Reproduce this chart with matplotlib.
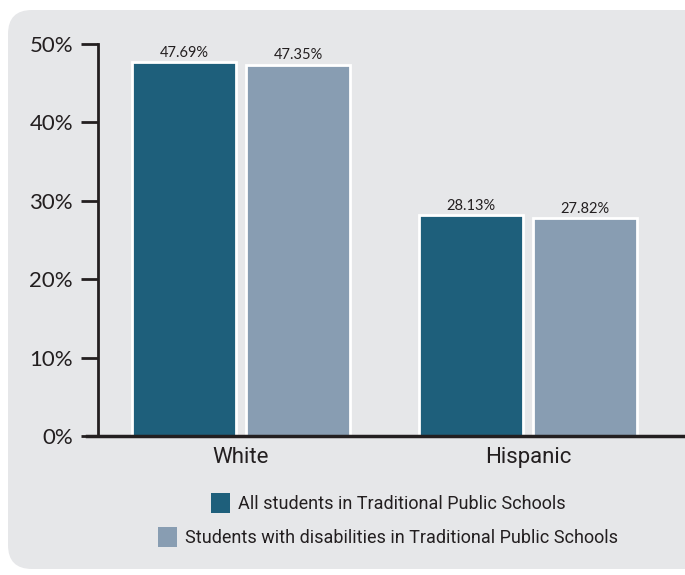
import matplotlib
matplotlib.use('Agg')
import matplotlib.pyplot as plt
from matplotlib.patches import FancyBboxPatch, Patch
import numpy as np

categories = ['White', 'Hispanic']
all_students = [47.69, 28.13]
swd_students = [47.35, 27.82]
series_labels = ['All students in Traditional Public Schools',
                 'Students with disabilities in Traditional Public Schools']
yticks = [0, 10, 20, 30, 40, 50]

DARK = '#1e5f7b'
LIGHT = '#889db2'
BG = '#e6e7e9'
INK = '#231f20'

W, H = 685, 575
fig = plt.figure(figsize=(W / 100, H / 100), dpi=100)
fig.patch.set_facecolor('white')

# rounded grey panel behind everything
panel = FancyBboxPatch((8 / W, 6 / H), 700 / W, 559 / H,
                       boxstyle='round,pad=0,rounding_size=0.035',
                       transform=fig.transFigure, facecolor=BG, edgecolor='none',
                       zorder=-10, mutation_aspect=W / H)
fig.patches.append(panel)

ax = fig.add_axes([98 / W, 1 - 436 / H, 587 / W, 392 / H])
ax.set_facecolor('none')
ax.set_zorder(2)

x = np.arange(len(categories))
bw = 0.362
off = 0.199
b1 = ax.bar(x - off, all_students, bw, color=DARK, edgecolor='white', linewidth=2, zorder=3)
b2 = ax.bar(x + off, swd_students, bw, color=LIGHT, edgecolor='white', linewidth=2, zorder=3)

for bars, vals in ((b1, all_students), (b2, swd_students)):
    for rect, v in zip(bars, vals):
        ax.text(rect.get_x() + rect.get_width() / 2, v + 0.3, f'{v:.2f}%',
                ha='center', va='bottom', fontsize=10.5, color=INK, family='Lato')

ax.set_xlim(-0.498, 1.547)
ax.set_ylim(0, 50)
ax.set_yticks(yticks)
ax.set_yticklabels([f'{t}%' for t in yticks], fontsize=16, color=INK, family='Lato')
ax.set_xticks(x)
ax.set_xticklabels(categories, fontsize=16, color=INK, family='Roboto')
ax.tick_params(axis='y', length=12, width=2, color=INK, pad=6)
ax.tick_params(axis='x', length=0, pad=8)

for s in ('top', 'right'):
    ax.spines[s].set_visible(False)
ax.spines['left'].set_linewidth(2)
ax.spines['left'].set_color(INK)
ax.spines['bottom'].set_linewidth(2.5)
ax.spines['bottom'].set_color(INK)
ax.spines['bottom'].set_bounds(-0.538, 1.547)
ax.spines['bottom'].set_zorder(5)

# legend rows, each centred on its own
leg_font = dict(family='Roboto', size=13)
for i, (lab, col) in enumerate(zip(series_labels, [DARK, LIGHT])):
    leg = fig.legend(handles=[Patch(facecolor=col, edgecolor='none')], labels=[lab],
                     loc='center', bbox_to_anchor=(388 / W, 1 - (503 + 34 * i) / H),
                     frameon=False, prop=leg_font, handlelength=1.05, handleheight=1.35,
                     handletextpad=0.45, borderpad=0)
    for t in leg.get_texts():
        t.set_color(INK)

fig.savefig('out.png', dpi=100, facecolor='white')
